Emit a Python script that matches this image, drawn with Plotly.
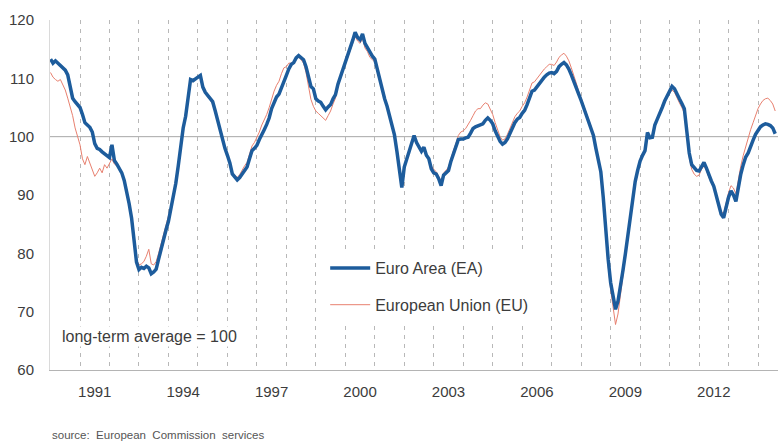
import plotly.graph_objects as go

START_YEAR = 1990
LABEL_YEARS = [1991, 1994, 1997, 2000, 2003, 2006, 2009, 2012]
GRID_YEARS = list(range(1991, 2015))
LONG_TERM_AVG = 100
Y_TICKS = [60, 70, 80, 90, 100, 110, 120]

EA_1990 = [113.3, 112.6, 113.0, 112.6, 112.4, 112.0, 111.4, 110.6, 108.6, 106.6, 106.0, 105.6]
EA_1991 = [105.0, 103.8, 102.4, 102.0, 101.6, 100.8, 98.8, 98.0, 97.8, 97.4, 97.0, 96.6]
EA_1992 = [96.4, 98.6, 95.9, 95.3, 94.6, 93.8, 92.5, 90.8, 88.5, 86.0, 82.5, 78.5]
EA_1993 = [77.2, 77.6, 77.4, 77.8, 77.5, 76.5, 76.8, 77.3, 79.0, 80.8, 82.5, 84.0]
EA_1994 = [85.5, 87.5, 89.5, 92.0, 95.0, 98.5, 101.5, 103.5, 106.5, 109.8, 109.6, 110.0]
EA_1995 = [110.2, 110.5, 108.5, 107.6, 107.0, 106.6, 106.0, 104.5, 102.8, 101.0, 99.5, 98.0]
EA_1996 = [96.8, 95.5, 93.6, 93.2, 92.6, 93.0, 93.6, 94.2, 94.8, 96.2, 97.6, 98.0]
EA_1997 = [98.5, 99.5, 100.5, 101.2, 102.1, 103.2, 104.8, 105.8, 106.8, 107.3, 108.5, 109.6]
EA_1998 = [110.5, 111.6, 112.4, 112.7, 113.5, 113.9, 113.6, 113.2, 112.0, 110.0, 108.6, 108.2]
EA_1999 = [106.5, 106.1, 105.9, 105.2, 104.6, 105.1, 105.5, 106.5, 107.2, 109.0, 110.2, 111.5]
EA_2000 = [112.6, 114.0, 115.3, 116.5, 117.9, 117.0, 116.6, 117.6, 116.0, 115.2, 114.3, 113.8]
EA_2001 = [113.3, 111.5, 109.8, 108.5, 106.5, 105.2, 103.5, 101.8, 100.3, 97.5, 94.5, 91.3]
EA_2002 = [94.8, 96.2, 97.5, 99.2, 100.2, 99.0, 98.2, 97.5, 98.2, 96.8, 96.2, 94.5]
EA_2003 = [93.8, 93.6, 92.8, 91.6, 93.4, 93.8, 94.2, 95.8, 97.0, 98.2, 99.5, 99.6]
EA_2004 = [99.6, 99.8, 99.9, 100.6, 101.4, 101.7, 101.9, 102.0, 102.2, 102.8, 103.2, 102.8]
EA_2005 = [102.2, 101.0, 99.9, 99.2, 98.7, 99.0, 99.6, 100.5, 101.6, 102.4, 103.0, 103.3]
EA_2006 = [104.0, 104.5, 105.5, 106.5, 107.8, 108.0, 108.6, 109.2, 109.8, 110.2, 110.6, 110.9]
EA_2007 = [111.0, 110.8, 111.2, 112.0, 112.4, 112.7, 112.3, 111.6, 110.6, 109.6, 108.5, 107.3]
EA_2008 = [106.2, 105.0, 104.0, 102.8, 101.8, 100.2, 98.0, 96.0, 94.0, 89.6, 84.0, 79.0]
EA_2009 = [75.0, 72.6, 70.4, 71.8, 74.2, 77.0, 79.9, 83.2, 86.7, 89.6, 92.3, 94.2]
EA_2010 = [95.8, 96.8, 97.6, 100.7, 99.8, 99.9, 102.0, 103.0, 103.9, 105.0, 106.1, 107.0]
EA_2011 = [107.8, 108.6, 108.2, 107.2, 106.5, 105.7, 104.8, 101.0, 97.2, 95.2, 94.6, 94.2]
EA_2012 = [94.1, 95.0, 95.6, 94.6, 93.4, 92.4, 91.5, 89.8, 88.2, 86.7, 86.1, 88.2]
EA_2013 = [89.6, 90.7, 90.0, 88.9, 91.5, 93.6, 95.2, 96.5, 97.2, 98.5, 99.4, 100.4]
EA_2014 = [101.0, 101.7, 102.0, 102.2, 102.1, 101.9, 101.5, 100.5]

EU_1990 = [111.0, 110.2, 109.8, 109.5, 109.8, 108.8, 108.0, 106.6, 105.2, 103.6, 101.5, 100.2]
EU_1991 = [98.6, 96.2, 95.2, 96.6, 95.4, 94.3, 93.2, 93.8, 94.6, 93.8, 95.2, 94.6]
EU_1992 = [95.5, 96.2, 95.3, 95.0, 94.5, 93.6, 92.3, 90.8, 88.7, 86.3, 82.8, 79.0]
EU_1993 = [78.0, 78.2, 78.6, 79.5, 80.7, 78.2, 78.0, 78.6, 80.0, 81.6, 83.2, 84.6]
EU_1994 = [86.0, 88.0, 90.0, 92.5, 95.5, 98.8, 101.6, 103.6, 106.4, 109.5, 109.4, 109.8]
EU_1995 = [110.0, 110.2, 108.3, 107.4, 106.8, 106.3, 105.6, 104.2, 102.5, 100.8, 99.3, 97.8]
EU_1996 = [96.6, 95.2, 93.5, 93.4, 93.0, 93.5, 94.3, 95.0, 95.6, 97.0, 98.4, 99.0]
EU_1997 = [99.8, 100.8, 102.0, 102.8, 103.8, 105.0, 106.6, 107.8, 108.8, 109.5, 110.8, 111.8]
EU_1998 = [112.0, 112.6, 112.6, 112.8, 113.4, 113.6, 113.2, 112.6, 111.0, 108.4, 106.4, 105.2]
EU_1999 = [104.4, 104.0, 103.6, 103.2, 102.8, 103.6, 104.4, 105.6, 106.6, 108.6, 110.0, 111.4]
EU_2000 = [112.4, 113.6, 114.8, 116.0, 117.2, 116.4, 116.0, 116.8, 115.2, 114.6, 113.6, 113.2]
EU_2001 = [112.8, 111.2, 109.6, 108.2, 106.4, 105.0, 103.4, 101.8, 100.4, 97.8, 95.0, 92.0]
EU_2002 = [95.0, 96.4, 97.6, 99.2, 100.0, 99.0, 98.4, 97.8, 98.2, 97.0, 96.4, 95.0]
EU_2003 = [94.4, 94.0, 93.2, 92.4, 93.8, 94.2, 94.8, 96.4, 97.6, 98.8, 100.2, 100.8]
EU_2004 = [101.0, 101.4, 102.0, 102.8, 103.6, 104.4, 104.8, 104.8, 105.4, 105.8, 105.6, 104.6]
EU_2005 = [103.8, 102.4, 101.0, 100.0, 99.4, 99.6, 100.4, 101.4, 102.6, 103.4, 104.0, 104.4]
EU_2006 = [105.2, 105.8, 106.8, 108.0, 109.2, 109.4, 110.0, 110.6, 111.2, 111.6, 112.0, 112.4]
EU_2007 = [112.4, 112.2, 112.8, 113.6, 114.0, 114.3, 113.8, 113.0, 111.8, 110.6, 109.2, 107.8]
EU_2008 = [106.6, 105.4, 104.2, 103.0, 101.8, 100.0, 97.8, 95.6, 93.4, 88.8, 83.0, 77.8]
EU_2009 = [73.8, 70.8, 67.8, 69.6, 72.8, 76.2, 79.4, 82.8, 86.4, 89.4, 92.2, 94.0]
EU_2010 = [95.6, 96.6, 97.6, 100.4, 99.8, 100.0, 102.0, 103.0, 104.0, 105.0, 106.0, 106.8]
EU_2011 = [107.4, 108.0, 107.6, 106.6, 105.8, 105.0, 104.0, 100.2, 96.4, 94.4, 93.6, 93.2]
EU_2012 = [93.4, 94.4, 95.0, 94.2, 93.0, 92.2, 91.4, 89.8, 88.4, 87.2, 86.8, 88.8]
EU_2013 = [90.4, 91.6, 91.2, 90.2, 92.8, 95.0, 96.8, 98.4, 99.6, 101.2, 102.4, 103.8]
EU_2014 = [104.8, 105.6, 106.2, 106.5, 106.6, 106.2, 105.6, 104.4]

EA = (EA_1990 + EA_1991 + EA_1992 + EA_1993 + EA_1994 + EA_1995 + EA_1996 + EA_1997
      + EA_1998 + EA_1999 + EA_2000 + EA_2001 + EA_2002 + EA_2003 + EA_2004 + EA_2005
      + EA_2006 + EA_2007 + EA_2008 + EA_2009 + EA_2010 + EA_2011 + EA_2012 + EA_2013 + EA_2014)
EU = (EU_1990 + EU_1991 + EU_1992 + EU_1993 + EU_1994 + EU_1995 + EU_1996 + EU_1997
      + EU_1998 + EU_1999 + EU_2000 + EU_2001 + EU_2002 + EU_2003 + EU_2004 + EU_2005
      + EU_2006 + EU_2007 + EU_2008 + EU_2009 + EU_2010 + EU_2011 + EU_2012 + EU_2013 + EU_2014)

X = [START_YEAR + i / 12 for i in range(len(EA))]

FONT = "Liberation Sans, Arial, sans-serif"
TXT = "#3c3c3c"

fig = go.Figure()
fig.add_trace(go.Scatter(
    x=X, y=EU, mode="lines", name="European Union (EU)",
    line=dict(color="#e8806f", width=1), legendrank=2, legendgroup="eu",
))
fig.add_trace(go.Scatter(
    x=X, y=EA, mode="lines", name="Euro Area (EA)",
    line=dict(color="#1d5c9c", width=3.5), legendrank=1, legendgroup="ea",
))

fig.add_shape(type="line", xref="paper", x0=0, x1=1, yref="y",
              y0=LONG_TERM_AVG, y1=LONG_TERM_AVG,
              line=dict(color="#a8a8a8", width=1), layer="below")

fig.add_annotation(text="long-term average = 100", xref="paper", yref="paper",
                   x=0.014, y=0.097, xanchor="left", yanchor="middle", showarrow=False,
                   font=dict(family=FONT, size=16, color=TXT), bgcolor="white")
fig.add_annotation(text="source:  European  Commission  services", xref="paper", yref="paper",
                   x=0.0, y=-0.186, xanchor="left", yanchor="middle", showarrow=False,
                   font=dict(family=FONT, size=11.5, color="#555555"))

fig.update_layout(
    width=778, height=441,
    margin=dict(l=50, r=0, t=20, b=71),
    plot_bgcolor="white", paper_bgcolor="white",
    font=dict(family=FONT, color=TXT),
    legend=dict(x=0.378, y=0.34, xanchor="left", yanchor="top", bgcolor="white",
                font=dict(family=FONT, size=16, color=TXT), tracegroupgap=13,
                itemwidth=40),
    xaxis=dict(
        range=[1989.982, 2014.678],
        tickmode="array",
        tickvals=[y + 0.5 for y in LABEL_YEARS],
        ticktext=[str(y) for y in LABEL_YEARS],
        showgrid=False, zeroline=False,
        showline=True, linecolor="#b4b4b4", linewidth=1,
        ticks="", ticklabelstandoff=8,
        tickfont=dict(family=FONT, size=15, color=TXT),
        minor=dict(tickmode="array", tickvals=GRID_YEARS, showgrid=True,
                   gridcolor="#b8b8b8", gridwidth=1, griddash="4px,5px", ticks=""),
    ),
    yaxis=dict(
        range=[60, 120],
        tickmode="array", tickvals=Y_TICKS,
        showgrid=False, zeroline=False,
        showline=True, linecolor="#dadada", linewidth=1,
        ticks="", ticklabelstandoff=12,
        tickfont=dict(family=FONT, size=15, color=TXT),
    ),
)

fig.write_html("out.html", config={"displayModeBar": False},
               post_script="document.body.style.margin='0';")
